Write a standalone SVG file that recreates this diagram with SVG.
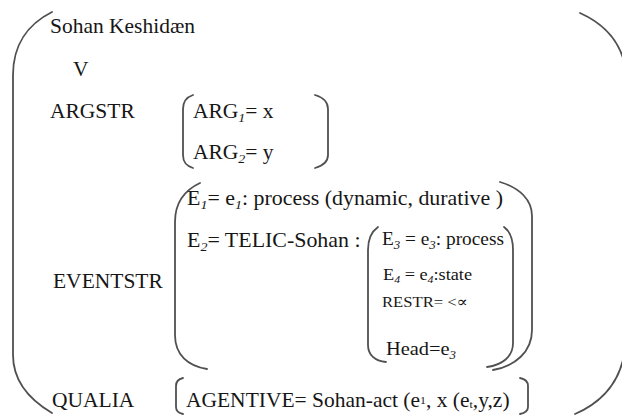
<svg xmlns="http://www.w3.org/2000/svg" width="622" height="415" viewBox="0 0 622 415">
<style>
.t{font-family:'Liberation Serif',Tinos,'Times New Roman',Times,'DejaVu Serif',serif;font-size:20px;fill:#161616}
.s{font-size:13px;font-style:italic}
.b{fill:none;stroke:#505050;stroke-width:1.8;stroke-linecap:round}
</style>
<rect width="622" height="415" fill="#fff"/>
<g id="brackets">
<path class="b" d="M52,12 C28,24 13,45 13,75 L13,355 C13,382 30,400 52,413"/>
<path class="b" d="M580,13 C600,22 616,36 623,58 L623,360 C616,388 598,404 575,414"/>
<path class="b" d="M193,95 C187,97 183,101 183,109 L183,155 C183,163 187,166 193,168"/>
<path class="b" d="M315,95 C322,97 328,101 328,109 L328,155 C328,163 322,166 315,168"/>
<path class="b" d="M200,183 C185,190 175,203 175,222 L175,335 C175,355 188,366 207,369"/>
<path class="b" d="M500,182 C520,188 532,200 532,216 L532,330 C532,352 515,366 493,370"/>
<path class="b" d="M378,227 C371,232 368,240 368,250 L368,345 C368,355 375,361 386,362"/>
<path class="b" d="M504,227 C511,232 513,240 513,250 L513,343 C513,357 502,365 487,367"/>
<path class="b" d="M183,378 C178,379 176,382 176,386 L176,407 C176,411 178,413 183,414"/>
<path class="b" d="M520,378 C525,379 528,382 528,386 L528,407 C528,411 525,413 520,414"/>
</g>
<g transform="scale(1.075 1)">
<g id="head"><text class="t" x="46.5" y="33">Sohan Keshidæn</text></g>
<g id="cat"><text class="t" x="67.9" y="76">V</text></g>
<g id="argstr">
<text class="t" x="46.5" y="118">ARGSTR</text>
<text class="t" x="179.5" y="118">ARG<tspan class="s" dy="4">1</tspan><tspan dy="-4">= x</tspan></text>
<text class="t" x="179.5" y="159">ARG<tspan class="s" dy="4">2</tspan><tspan dy="-4">= y</tspan></text>
</g>
<g id="eventstr">
<text class="t" x="49.3" y="288">EVENTSTR</text>
<text class="t" x="174" y="205" style="font-size:20.4px">E<tspan class="s" dy="4">1</tspan><tspan dy="-4">= e</tspan><tspan class="s" dy="4">1</tspan><tspan dy="-4">: process (dynamic, durative )</tspan></text>
<text class="t" x="174" y="247" style="font-size:20.4px">E<tspan class="s" dy="4">2</tspan><tspan dy="-4">= TELIC-Sohan :</tspan></text>
<text class="t" x="355.3" y="245" style="font-size:18px">E<tspan class="s" dy="4" style="font-size:12px">3</tspan><tspan dy="-4"> = e</tspan><tspan class="s" dy="4" style="font-size:12px">3</tspan><tspan dy="-4">: process</tspan></text>
<text class="t" x="356.3" y="280" style="font-size:17px">E<tspan class="s" dy="3" style="font-size:11px">4</tspan><tspan dy="-3"> = e</tspan><tspan class="s" dy="3" style="font-size:11px">4</tspan><tspan dy="-3">:state</tspan></text>
<text class="t" x="355.3" y="307" style="font-size:15.5px">RESTR= &lt;∝</text>
<text class="t" x="359" y="355" style="font-size:19px">Head=e<tspan class="s" dy="4" style="font-size:12px">3</tspan></text>
</g>
<g id="qualia">
<text class="t" x="48.4" y="407">QUALIA</text>
<text class="t" x="173" y="407">AGENTIVE= Sohan-act (e<tspan dy="-3" style="font-size:11px">1</tspan><tspan dy="3">, x (e</tspan><tspan dy="1" style="font-size:11px">t</tspan><tspan dy="-1">,y,z)</tspan></text>
</g>
</g>
</svg>
